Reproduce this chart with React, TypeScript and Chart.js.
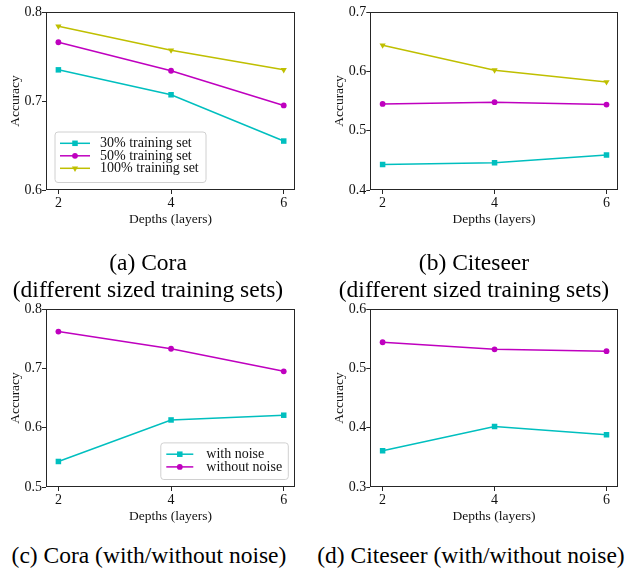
import React, { useEffect, useRef } from 'react';
import { Chart, registerables } from 'chart.js';

Chart.register(...registerables);

// ---------- data ----------
const depths = [2, 4, 6];
const xTickValues = [2, 4, 6];

const coraSized30 = [0.735, 0.707, 0.655];
const coraSized50 = [0.766, 0.734, 0.695];
const coraSized100 = [0.784, 0.757, 0.735];

const citeseerSized30 = [0.443, 0.446, 0.459];
const citeseerSized50 = [0.545, 0.548, 0.544];
const citeseerSized100 = [0.644, 0.602, 0.582];

const coraWithNoise = [0.543, 0.613, 0.621];
const coraWithoutNoise = [0.762, 0.733, 0.695];

const citeseerWithNoise = [0.361, 0.402, 0.388];
const citeseerWithoutNoise = [0.544, 0.532, 0.529];

const coraSizedYTicks = [0.6, 0.7, 0.8];
const citeseerSizedYTicks = [0.4, 0.5, 0.6, 0.7];
const coraNoiseYTicks = [0.5, 0.6, 0.7, 0.8];
const citeseerNoiseYTicks = [0.3, 0.4, 0.5, 0.6];

const sizedLabels = ['30% training set', '50% training set', '100% training set'];
const noiseLabels = ['with noise', 'without noise'];

const captionA = ['(a) Cora', '(different sized training sets)'];
const captionB = ['(b) Citeseer', '(different sized training sets)'];
const captionC = '(c) Cora (with/without noise)';
const captionD = '(d) Citeseer (with/without noise)';

const xTitle = 'Depths (layers)';
const yTitle = 'Accuracy';

// ---------- styles ----------
const FONT = 'Liberation Serif';
const CYAN = '#00bfbf';
const MAGENTA = '#bf00bf';
const YELLOW = '#bfbf00';

type MarkerStyle = { color: string; pointStyle: string; radius: number; rotation: number };
const SQUARE: MarkerStyle = { color: CYAN, pointStyle: 'rect', radius: 3.9, rotation: 0 };
const CIRCLE: MarkerStyle = { color: MAGENTA, pointStyle: 'circle', radius: 2.9, rotation: 0 };
const TRI_DOWN: MarkerStyle = { color: YELLOW, pointStyle: 'triangle', radius: 3.6, rotation: 180 };

type Series = { label: string; values: number[]; style: MarkerStyle };

type LegendCfg = {
  anchor: 'bl' | 'br';
  dx: number;
  dy: number;
  w: number;
  h: number;
  rowTop: number;
  rowGap: number;
  lineX0: number;
  lineX1: number;
  markerX: number;
  textX: number;
};

function drawMarker(ctx: CanvasRenderingContext2D, m: MarkerStyle, x: number, y: number) {
  ctx.beginPath();
  if (m.pointStyle === 'rect') {
    const s = m.radius * Math.SQRT1_2;
    ctx.rect(x - s, y - s, 2 * s, 2 * s);
  } else if (m.pointStyle === 'circle') {
    ctx.arc(x, y, m.radius, 0, Math.PI * 2);
  } else {
    let rad = (m.rotation * Math.PI) / 180;
    ctx.moveTo(x + Math.sin(rad) * m.radius, y - Math.cos(rad) * m.radius);
    rad += (2 * Math.PI) / 3;
    ctx.lineTo(x + Math.sin(rad) * m.radius, y - Math.cos(rad) * m.radius);
    rad += (2 * Math.PI) / 3;
    ctx.lineTo(x + Math.sin(rad) * m.radius, y - Math.cos(rad) * m.radius);
  }
  ctx.closePath();
  ctx.fillStyle = m.color;
  ctx.fill();
}

type PanelProps = {
  left: number;
  top: number;
  width: number;
  height: number;
  yAxisWidth: number;
  padRight: number;
  series: Series[];
  yTicks: number[];
  legend: LegendCfg | null;
};

function Panel(props: PanelProps) {
  const ref = useRef<HTMLCanvasElement | null>(null);
  useEffect(() => {
    const canvas = ref.current;
    if (!canvas) return;
    const { series, yTicks, legend, yAxisWidth, padRight } = props;

    const framePlugin = {
      id: 'frame',
      beforeDatasetsDraw(chart: any) {
        const { ctx, chartArea } = chart;
        const l = Math.round(chartArea.left) + 0.5;
        const t = Math.round(chartArea.top) + 0.5;
        const r = Math.round(chartArea.right) - 0.5;
        const b = Math.round(chartArea.bottom) - 0.5;
        ctx.save();
        ctx.strokeStyle = '#262626';
        ctx.lineWidth = 1;
        ctx.strokeRect(l, t, r - l, b - t);
        ctx.restore();
      },
    };

    const legendPlugin = {
      id: 'innerLegend',
      afterDatasetsDraw(chart: any) {
        if (!legend) return;
        const { ctx, chartArea } = chart;
        const bx = legend.anchor === 'bl' ? chartArea.left + legend.dx : chartArea.right - legend.dx - legend.w;
        const by = chartArea.bottom - legend.dy - legend.h;
        ctx.save();
        const rr = 3;
        ctx.beginPath();
        ctx.moveTo(bx + rr, by);
        ctx.lineTo(bx + legend.w - rr, by);
        ctx.arcTo(bx + legend.w, by, bx + legend.w, by + rr, rr);
        ctx.lineTo(bx + legend.w, by + legend.h - rr);
        ctx.arcTo(bx + legend.w, by + legend.h, bx + legend.w - rr, by + legend.h, rr);
        ctx.lineTo(bx + rr, by + legend.h);
        ctx.arcTo(bx, by + legend.h, bx, by + legend.h - rr, rr);
        ctx.lineTo(bx, by + rr);
        ctx.arcTo(bx, by, bx + rr, by, rr);
        ctx.closePath();
        ctx.fillStyle = 'rgba(255,255,255,0.85)';
        ctx.fill();
        ctx.strokeStyle = '#d0d0d0';
        ctx.lineWidth = 1;
        ctx.stroke();
        ctx.font = `14px "${FONT}"`;
        ctx.textBaseline = 'middle';
        ctx.textAlign = 'left';
        series.forEach((s, i) => {
          const y = by + legend.rowTop + i * legend.rowGap;
          ctx.beginPath();
          ctx.moveTo(bx + legend.lineX0, y);
          ctx.lineTo(bx + legend.lineX1, y);
          ctx.strokeStyle = s.style.color;
          ctx.lineWidth = 1.5;
          ctx.stroke();
          drawMarker(ctx, s.style, bx + legend.markerX, y);
          ctx.fillStyle = '#111';
          ctx.fillText(s.label, bx + legend.textX, y + 0.5);
        });
        ctx.restore();
      },
    };

    const chart = new Chart(canvas, {
      type: 'line',
      data: {
        datasets: series.map((s) => ({
          label: s.label,
          data: depths.map((d, i) => ({ x: d, y: s.values[i] })),
          borderColor: s.style.color,
          backgroundColor: s.style.color,
          borderWidth: 1.5,
          pointStyle: s.style.pointStyle as any,
          pointRadius: s.style.radius,
          pointRotation: s.style.rotation,
          pointBorderWidth: 0,
          pointBackgroundColor: s.style.color,
          tension: 0,
          fill: false,
        })),
      },
      options: {
        responsive: false,
        animation: false,
        devicePixelRatio: 1,
        events: [],
        layout: { padding: { top: 12, right: padRight, bottom: 0, left: 0 } },
        plugins: {
          legend: { display: false },
          tooltip: { enabled: false },
        },
        scales: {
          x: {
            type: 'linear',
            min: 1.78,
            max: 6.2,
            afterBuildTicks: (scale: any) => {
              scale.ticks = xTickValues.map((v) => ({ value: v }));
            },
            afterFit: (scale: any) => {
              scale.height = 38;
            },
            ticks: {
              callback: (v: any) => String(v),
              font: { family: FONT, size: 14 },
              color: '#111',
              padding: 1,
              maxRotation: 0,
              autoSkip: false,
            },
            grid: {
              display: true,
              drawOnChartArea: false,
              drawTicks: true,
              tickLength: 4,
              color: '#262626',
            },
            border: { display: false },
            title: {
              display: true,
              text: xTitle,
              font: { family: FONT, size: 13.5 },
              color: '#111',
              padding: { top: 0, bottom: 0 },
            },
          },
          y: {
            type: 'linear',
            min: yTicks[0],
            max: yTicks[yTicks.length - 1],
            afterBuildTicks: (scale: any) => {
              scale.ticks = yTicks.map((v) => ({ value: v }));
            },
            afterFit: (scale: any) => {
              scale.width = yAxisWidth;
            },
            ticks: {
              callback: (v: any) => Number(v).toFixed(1),
              font: { family: FONT, size: 14 },
              color: '#111',
              padding: 0,
              autoSkip: false,
            },
            grid: {
              display: true,
              drawOnChartArea: false,
              drawTicks: true,
              tickLength: 4,
              color: '#262626',
            },
            border: { display: false },
            title: {
              display: true,
              text: yTitle,
              font: { family: FONT, size: 13.5 },
              color: '#111',
              padding: { top: 7.4, bottom: 0 },
            },
          },
        },
      },
      plugins: [framePlugin, legendPlugin],
    } as any);
    return () => chart.destroy();
  }, []);

  return (
    <canvas
      ref={ref}
      width={props.width}
      height={props.height}
      style={{
        position: 'absolute',
        left: props.left,
        top: props.top,
        width: props.width,
        height: props.height,
      }}
    />
  );
}

const captionStyle: React.CSSProperties = {
  position: 'absolute',
  fontFamily: FONT,
  fontSize: 23.5,
  lineHeight: '27px',
  textAlign: 'center',
  color: '#000',
  whiteSpace: 'nowrap',
};

export default function App() {
  const sizedLegend: LegendCfg = {
    anchor: 'bl',
    dx: 9,
    dy: 7.5,
    w: 151,
    h: 50.5,
    rowTop: 11.3,
    rowGap: 12.5,
    lineX0: 5,
    lineX1: 35,
    markerX: 20,
    textX: 45,
  };
  const noiseLegend: LegendCfg = {
    anchor: 'br',
    dx: 6.7,
    dy: 7.5,
    w: 127.5,
    h: 36.6,
    rowTop: 11.3,
    rowGap: 12.7,
    lineX0: 5.5,
    lineX1: 32.5,
    markerX: 19,
    textX: 45.5,
  };

  return (
    <div
      style={{
        position: 'absolute',
        left: 0,
        top: 0,
        width: 631,
        height: 568,
        background: '#fff',
        overflow: 'hidden',
      }}
    >
      <Panel
        left={0}
        top={0}
        width={305}
        height={228}
        yAxisWidth={46}
        padRight={10}
        yTicks={coraSizedYTicks}
        series={[
          { label: sizedLabels[0], values: coraSized30, style: SQUARE },
          { label: sizedLabels[1], values: coraSized50, style: CIRCLE },
          { label: sizedLabels[2], values: coraSized100, style: TRI_DOWN },
        ]}
        legend={sizedLegend}
      />
      <Panel
        left={324}
        top={0}
        width={304}
        height={228}
        yAxisWidth={46.3}
        padRight={10.3}
        yTicks={citeseerSizedYTicks}
        series={[
          { label: sizedLabels[0], values: citeseerSized30, style: SQUARE },
          { label: sizedLabels[1], values: citeseerSized50, style: CIRCLE },
          { label: sizedLabels[2], values: citeseerSized100, style: TRI_DOWN },
        ]}
        legend={null}
      />
      <Panel
        left={0}
        top={297}
        width={305}
        height={228}
        yAxisWidth={46}
        padRight={10}
        yTicks={coraNoiseYTicks}
        series={[
          { label: noiseLabels[0], values: coraWithNoise, style: SQUARE },
          { label: noiseLabels[1], values: coraWithoutNoise, style: CIRCLE },
        ]}
        legend={noiseLegend}
      />
      <Panel
        left={324}
        top={297}
        width={304}
        height={228}
        yAxisWidth={46.3}
        padRight={10.3}
        yTicks={citeseerNoiseYTicks}
        series={[
          { label: noiseLabels[0], values: citeseerWithNoise, style: SQUARE },
          { label: noiseLabels[1], values: citeseerWithoutNoise, style: CIRCLE },
        ]}
        legend={null}
      />

      <div style={{ ...captionStyle, left: 0, top: 248.5, width: 296 }}>
        {captionA[0]}
        <br />
        {captionA[1]}
      </div>
      <div style={{ ...captionStyle, left: 324, top: 248.5, width: 300 }}>
        {captionB[0]}
        <br />
        {captionB[1]}
      </div>
      <div style={{ ...captionStyle, left: 0, top: 541.5, width: 298 }}>{captionC}</div>
      <div style={{ ...captionStyle, left: 314, top: 541.5, width: 314 }}>{captionD}</div>
    </div>
  );
}
